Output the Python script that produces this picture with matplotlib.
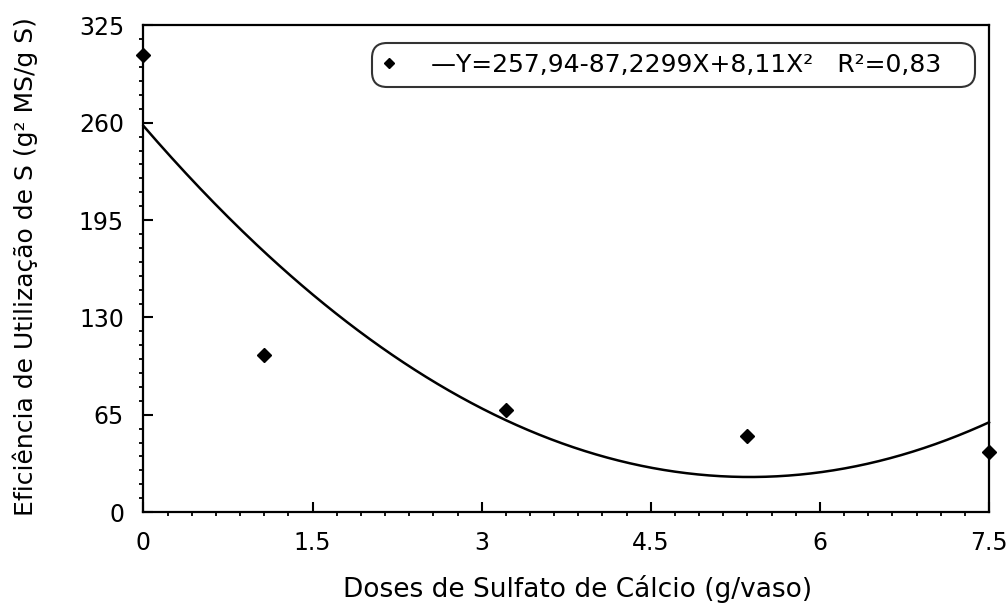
import numpy as np
import matplotlib
matplotlib.use("Agg")
import matplotlib.pyplot as plt
from matplotlib.ticker import AutoMinorLocator
from matplotlib.lines import Line2D

plt.rcParams['font.family'] = ['DejaVu Sans']

# observed points
doses = [0, 1.07, 3.22, 5.35, 7.5]
eficiencia = [305, 105, 68, 51, 40]

# fitted quadratic from the legend: Y = b0 + b1*X + b2*X^2
b0, b1, b2 = 257.94, -87.2299, 8.11
x_ticks = [0, 1.5, 3, 4.5, 6, 7.5]
x_ticklabels = ['0', '1.5', '3', '4.5', '6', '7.5']
y_ticks = [0, 65, 130, 195, 260, 325]

fig = plt.figure(figsize=(10.06, 6.07), dpi=100)
ax = fig.add_axes([0.1426, 0.1565, 0.8405, 0.8015])

xfit = np.linspace(0, 7.5, 300)
yfit = b0 + b1 * xfit + b2 * xfit ** 2
ax.plot(xfit, yfit, color='black', lw=1.8, clip_on=False)
ax.plot(doses, eficiencia, linestyle='none', marker='D', ms=7.5,
        color='black', clip_on=False, zorder=5)

ax.set_xlim(0, 7.5)
ax.set_ylim(0, 325)
ax.set_xticks(x_ticks)
ax.set_xticklabels(x_ticklabels)
ax.set_yticks(y_ticks)
ax.xaxis.set_minor_locator(AutoMinorLocator(7))
ax.yaxis.set_minor_locator(AutoMinorLocator(7))
ax.tick_params(which='major', direction='in', length=7, width=1.5,
               labelsize=17, pad=14)
ax.tick_params(which='minor', direction='out', length=3, width=1.3)
for s in ax.spines.values():
    s.set_linewidth(1.6)

ax.set_xlabel('Doses de Sulfato de Cálcio (g/vaso)', fontsize=19)
ax.xaxis.set_label_coords(0.513, -0.13)
ax.set_ylabel('Eficiência de Utilização de S (g² MS/g S)', fontsize=18)
ax.yaxis.set_label_coords(-0.125, 0.505)

handle = Line2D([], [], linestyle='none', marker='D', ms=5.5, color='black')
leg = ax.legend([handle], ['—Y=257,94-87,2299X+8,11X²   R²=0,83   '],
                loc='upper right', bbox_to_anchor=(0.9834, 0.964),
                borderaxespad=0, fontsize=18, frameon=True, fancybox=True,
                handlelength=0.56, handletextpad=1.4, borderpad=0.4)
leg.get_frame().set_edgecolor('black')
leg.get_frame().set_linewidth(1.5)
leg.get_frame().set_boxstyle('round,pad=0,rounding_size=0.6')

fig.savefig('out.png', dpi=100)
